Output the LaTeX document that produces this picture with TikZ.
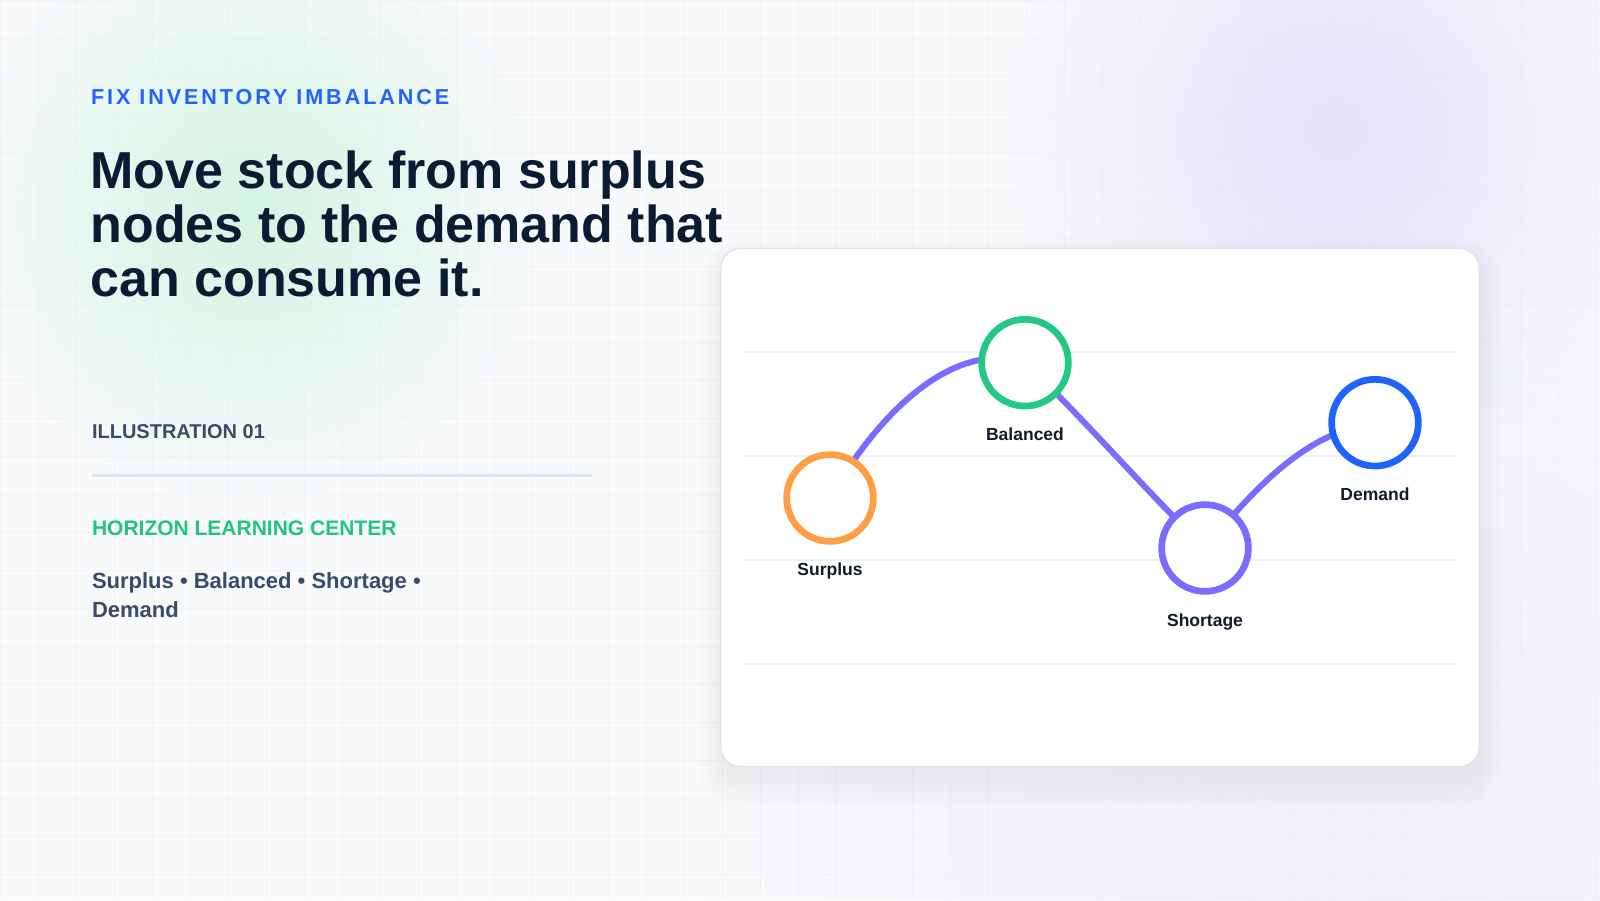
\documentclass[tikz,border=0pt]{standalone}
\usepackage{fontspec}
\setmainfont{Liberation Sans}
\usetikzlibrary{calc,fadings}
\definecolor{bgbase}{HTML}{F8FAFC}
\definecolor{glowgreen}{HTML}{D3F5E2}
\definecolor{glowpurple}{HTML}{E5E2FB}
\definecolor{glowlav}{HTML}{EEEDFA}
\definecolor{gridc}{HTML}{E6EAF0}
\definecolor{kickerc}{HTML}{2262FF}
\definecolor{titlec}{HTML}{0B1B34}
\definecolor{slatec}{HTML}{3A4A6B}
\definecolor{greentext}{HTML}{22C47E}
\definecolor{dividerc}{HTML}{DCE3EE}
\definecolor{cardborder}{HTML}{DFE5EE}
\definecolor{shadowc}{HTML}{4A5A80}
\definecolor{chartgrid}{HTML}{EDF1F6}
\definecolor{orangec}{HTML}{FF9F43}
\definecolor{greenc}{HTML}{22C983}
\definecolor{purplec}{HTML}{7B6CFF}
\definecolor{bluec}{HTML}{1E62FF}
\definecolor{labelc}{HTML}{111B2E}
\tikzfading[name=glowfade, inner color=transparent!0, outer color=transparent!100]
\pgfdeclarelayer{bg}
\pgfdeclarelayer{edges}
\pgfsetlayers{bg,edges,main}
\newfontfamily\kickerfont[LetterSpace=13.5]{Liberation Sans}
\tikzset{
  txt/.style={inner sep=0pt, outer sep=0pt, anchor=base west},
  ring/.style={circle, draw=#1, line width=6.7bp, fill=white, minimum size=86.7bp, inner sep=0pt},
  flow/.style={draw=purplec, line width=6bp},
  lbl/.style={inner sep=0pt, anchor=base, text=labelc, font=\fontsize{17.5bp}{20bp}\selectfont\bfseries},
  chartline/.style={draw=chartgrid, line width=2bp},
  titletxt/.style={txt, text=titlec, font=\fontsize{52bp}{54bp}\selectfont\bfseries},
}
\begin{document}
\begin{tikzpicture}[x=1bp,y=-1bp]
\useasboundingbox (0,0) rectangle (1600,900);
\begin{pgfonlayer}{bg}
  \fill[bgbase] (0,0) rectangle (1600,900);
  \fill[glowlav, path fading=glowfade, opacity=0.8] (1350,820) circle (650);
  \fill[glowgreen, path fading=glowfade] (250,210) circle (290);
  \fill[glowpurple, path fading=glowfade] (1335,130) circle (340);
  \foreach \i in {0,38,...,1600} \draw[gridc, line width=0.8bp, opacity=0.4] (\i,0) -- (\i,900);
  \foreach \j in {0,38,...,900} \draw[gridc, line width=0.8bp, opacity=0.4] (0,\j) -- (1600,\j);
  % card shadow
  \foreach \k in {1,...,12} {
    \pgfmathsetmacro\rr{20+2.5*\k}
    \fill[shadowc, opacity=0.0045, rounded corners=\rr bp]
      (720.7-2*\k, 248.3+12-2*\k) rectangle (1479.3+2*\k, 766.7+12+2.5*\k);
  }
  % card
  \node[draw=cardborder, line width=1.5bp, fill=white, rounded corners=20bp,
        minimum width=758.6bp, minimum height=518.4bp, inner sep=0pt] (card) at (1100,507.5) {};
  % chart grid lines
  \draw[chartline] (744,352) -- (1456,352);
  \draw[chartline] (744,456) -- (1456,456);
  \draw[chartline] (744,560) -- (1456,560);
  \draw[chartline] (744,664) -- (1456,664);
\end{pgfonlayer}

% rings
\node[ring=orangec] (s) at (830,498) {};
\node[ring=greenc] (b) at (1025,362.7) {};
\node[ring=purplec] (sh) at (1205,548) {};
\node[ring=bluec] (d) at (1375,422.7) {};

\begin{pgfonlayer}{edges}
  \draw[flow] (s.center) .. controls ($(s.center)+(50,-88)$) and ($(b.center)+(-70,-23)$) .. (b.center);
  \draw[flow] (b.center) .. controls ($(b.center)+(60,57)$) and ($(sh.center)+(-60,-58)$) .. (sh.center);
  \draw[flow] (sh.center) .. controls ($(sh.center)+(50,-60)$) and ($(d.center)+(-70,10)$) .. (d.center);
\end{pgfonlayer}

% ring labels
\node[lbl] (sl) at ($(s.center)+(0,77.7)$) {Surplus};
\node[lbl] (bl) at ($(b.center)+(0,78)$) {Balanced};
\node[lbl] (shl) at ($(sh.center)+(0,78)$) {Shortage};
\node[lbl] (dl) at ($(d.center)+(0,78)$) {Demand};

% left column
\node[txt, text=kickerc, font=\kickerfont\fontsize{21.6bp}{24bp}\selectfont\bfseries] (kicker) at (91,104) {FIX INVENTORY IMBALANCE};
\node[titletxt] (t1) at (90.5,188.3) {Move stock from surplus};
\node[titletxt] (t2) at (90.5,242.5) {nodes to the demand that};
\node[titletxt] (t3) at (90.5,296.7) {can consume it.};
\node[txt, text=slatec, font=\fontsize{20bp}{22bp}\selectfont\bfseries] (ill) at (92,438.3) {ILLUSTRATION 01};
\draw[dividerc, line width=2.8bp] (92,475.7) -- (592,475.7);
\node[txt, text=greentext, font=\fontsize{21bp}{24bp}\selectfont\bfseries] (org) at (92,535.3) {HORIZON LEARNING CENTER};
\node[txt, text=slatec, font=\fontsize{22bp}{26bp}\selectfont\bfseries] (sub1) at (92,588.5) {Surplus • Balanced • Shortage •};
\node[txt, text=slatec, font=\fontsize{22bp}{26bp}\selectfont\bfseries] (sub2) at (92,617) {Demand};
\end{tikzpicture}
\end{document}
